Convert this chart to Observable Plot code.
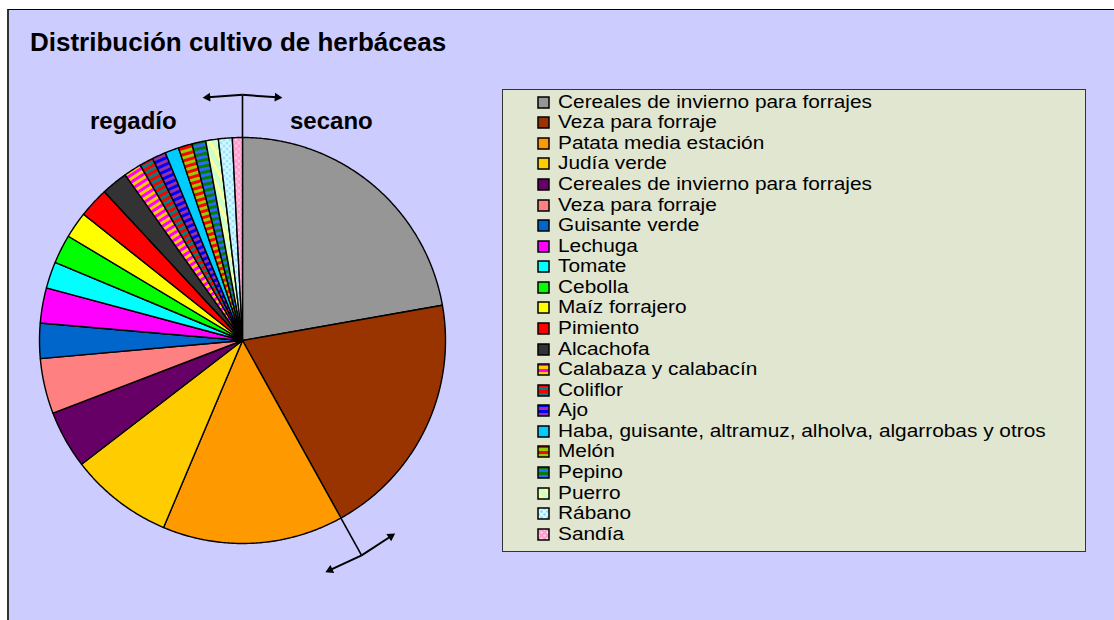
<!DOCTYPE html>
<html><head><meta charset="utf-8">
<script src="https://cdn.jsdelivr.net/npm/d3@7"></script>
<script src="https://cdn.jsdelivr.net/npm/@observablehq/plot@0.6"></script>
<style>
body{margin:0;background:#fff;width:1114px;height:620px;overflow:hidden;position:relative;font-family:"Liberation Sans",Arial,sans-serif;}
#frame{position:absolute;left:7px;top:9px;width:1107px;height:611px;background:#CCCCFF;border-top:1px solid #000;border-left:2px solid #333;box-sizing:border-box;}
#title{position:absolute;left:30px;top:29px;font-weight:bold;font-size:26px;line-height:26px;white-space:nowrap;color:#000;}
.side{position:absolute;top:109px;font-weight:bold;font-size:24px;line-height:24px;white-space:nowrap;color:#000;}
#chart{position:absolute;left:0;top:0;}
#legend{position:absolute;left:502px;top:89px;width:584px;height:463px;background:#E0E6D0;border:1px solid #333;box-sizing:border-box;}
.row{position:absolute;left:0;height:20.5px;white-space:nowrap;color:#000;}
.row svg{position:absolute;left:34px;top:4px;}
.row span{position:absolute;left:55px;top:0;font-size:18.3px;line-height:20.5px;display:block;transform:scaleX(1.14);transform-origin:0 50%;}
</style>
</head><body>
<div id="frame"></div>
<div id="title">Distribución cultivo de herbáceas</div>
<div class="side" style="left:90px">regadío</div>
<div class="side" style="left:290px">secano</div>
<div id="chart"></div>
<div id="legend"></div>
<script>
// ---- data ----
const categories = [
  "Cereales de invierno para forrajes", "Veza para forraje", "Patata media estación", "Judía verde",
  "Cereales de invierno para forrajes", "Veza para forraje", "Guisante verde", "Lechuga", "Tomate",
  "Cebolla", "Maíz forrajero", "Pimiento", "Alcachofa", "Calabaza y calabacín", "Coliflor", "Ajo",
  "Haba, guisante, altramuz, alholva, algarrobas y otros", "Melón", "Pepino", "Puerro", "Rábano", "Sandía"
];
const values = [22.2, 19.7, 14.4, 8.2, 4.6, 4.4, 2.8, 2.8, 2.1, 2.3, 2.1, 2.4, 2.1, 1.4, 1.1, 1.1, 1.1, 1.1, 1.1, 1.0, 1.1, 0.8];
const groups = ["secano", "secano", "regadío", "regadío", "regadío", "regadío", "regadío", "regadío", "regadío", "regadío", "regadío",
  "regadío", "regadío", "regadío", "regadío", "regadío", "regadío", "regadío", "regadío", "regadío", "regadío", "regadío"];
const solidColors = ["#969696", "#993300", "#FF9900", "#FFCC00", "#660066", "#FF8080", "#0066CC", "#FF00FF", "#00FFFF",
  "#00FF00", "#FFFF00", "#FF0000", "#333333", null, null, null, "#00CCFF", null, null, null, null, null];
const patterns = {
  13: {type: "stripes", a: "#FF00FF", b: "#FFCC00"},
  14: {type: "stripes", a: "#FF0000", b: "#008080"},
  15: {type: "stripes", a: "#0000FF", b: "#993399"},
  17: {type: "stripes", a: "#FF0000", b: "#99CC00"},
  18: {type: "stripes", a: "#008000", b: "#3366FF"},
  19: {type: "diag", a: "#CCFFCC", b: "#FFFF99"},
  20: {type: "dots", a: "#CCFFFF", b: "#99CCFF"},
  21: {type: "dots", a: "#FF99CC", b: "#FFD6EA"}
};

// ---- geometry from data ----
const total = d3.sum(values);
const cum = d3.cumsum(values);
const starts = values.map((v, i) => (i === 0 ? 0 : cum[i - 1]) / total * 360);
const ends = cum.map(c => c / total * 360);
const rad = a => a * Math.PI / 180;

// ---- pattern defs ----
const defsSvg = d3.select("body").append("svg").attr("width", 0).attr("height", 0).style("position", "absolute");
const defs = defsSvg.append("defs");
function makePattern(id, p, rot) {
  const pat = defs.append("pattern").attr("id", id).attr("patternUnits", "userSpaceOnUse");
  if (p.type === "stripes") {
    pat.attr("width", 6).attr("height", 6).attr("patternTransform", `rotate(${rot})`);
    pat.append("rect").attr("width", 6).attr("height", 3).attr("fill", p.a);
    pat.append("rect").attr("y", 3).attr("width", 6).attr("height", 3).attr("fill", p.b);
  } else if (p.type === "diag") {
    pat.attr("width", 8).attr("height", 8).attr("patternTransform", "rotate(60)");
    pat.append("rect").attr("width", 8).attr("height", 8).attr("fill", p.a);
    pat.append("rect").attr("width", 8).attr("height", 3).attr("fill", p.b);
  } else {
    pat.attr("width", 6).attr("height", 6);
    pat.append("rect").attr("width", 6).attr("height", 6).attr("fill", p.a);
    pat.append("circle").attr("cx", 1.5).attr("cy", 1.5).attr("r", 1.3).attr("fill", p.b);
    pat.append("circle").attr("cx", 4.5).attr("cy", 4.5).attr("r", 1.3).attr("fill", p.b);
  }
}
const sliceFill = [], legendFill = [];
categories.forEach((c, i) => {
  if (patterns[i]) {
    const mid = (starts[i] + ends[i]) / 2;
    makePattern("slice" + i, patterns[i], mid);
    makePattern("leg" + i, patterns[i], 0);
    sliceFill.push(`url(#slice${i})`);
    legendFill.push(`url(#leg${i})`);
  } else {
    sliceFill.push(solidColors[i]);
    legendFill.push(solidColors[i]);
  }
});

// ---- slice outlines (clockwise from 12 o'clock) ----
const rows = [];
categories.forEach((c, i) => {
  rows.push({id: i, x: 0, y: 0, fill: sliceFill[i]});
  const n = Math.max(2, Math.ceil(ends[i] - starts[i]) * 2);
  for (let k = 0; k <= n; k++) {
    const a = rad(starts[i] + (ends[i] - starts[i]) * k / n);
    rows.push({id: i, x: Math.sin(a), y: Math.cos(a), fill: sliceFill[i]});
  }
  rows.push({id: i, x: 0, y: 0, fill: sliceFill[i]});
});

// ---- secano / regadío boundary markers ----
const boundaries = [];
groups.forEach((g, i) => {
  const prev = groups[(i - 1 + groups.length) % groups.length];
  if (g !== prev) boundaries.push(starts[i]);
});
const stemLen = 1.21, arrowLen = 0.19, bend = rad(4), headBack = 0.02;
const stems = boundaries.map(b => ({x1: Math.sin(rad(b)), y1: Math.cos(rad(b)), x2: stemLen * Math.sin(rad(b)), y2: stemLen * Math.cos(rad(b))}));
const arrows = [], heads = [];
boundaries.forEach(b => {
  const rx = Math.sin(rad(b)), ry = Math.cos(rad(b));
  const ox = stemLen * rx, oy = stemLen * ry;
  [1, -1].forEach(s => {
    // tangent direction, bent slightly toward the pie
    const tx = s * Math.cos(rad(b)), ty = -s * Math.sin(rad(b));
    const dx = tx * Math.cos(bend) - rx * Math.sin(bend);
    const dy = ty * Math.cos(bend) - ry * Math.sin(bend);
    const ex = ox + arrowLen * dx, ey = oy + arrowLen * dy;
    arrows.push({x1: ox, y1: oy, x2: ex - headBack * dx, y2: ey - headBack * dy});
    heads.push({x: ex - 0.018 * dx, y: ey - 0.018 * dy, rotate: Math.atan2(-dy, dx) * 180 / Math.PI + 90});
  });
});

const chart = Plot.plot({
  width: 1114, height: 620,
  marginLeft: 39, marginRight: 669, marginTop: 137, marginBottom: 77,
  x: {domain: [-1, 1], axis: null},
  y: {domain: [-1, 1], axis: null},
  color: {type: "identity"},
  style: {background: "transparent", overflow: "visible"},
  marks: [
    Plot.line(rows, {x: "x", y: "y", z: "id", fill: "fill", stroke: "#000", strokeWidth: 1.4, strokeLinejoin: "round"}),
    Plot.link(stems, {x1: "x1", y1: "y1", x2: "x2", y2: "y2", stroke: "#000", strokeWidth: 1.6}),
    Plot.link(arrows, {x1: "x1", y1: "y1", x2: "x2", y2: "y2", stroke: "#000", strokeWidth: 2}),
    Plot.dot(heads, {x: "x", y: "y", rotate: "rotate", symbol: "triangle2", r: 4.2, fill: "#000", stroke: "none"})
  ]
});
document.getElementById("chart").appendChild(chart);

// ---- legend ----
const legend = d3.select("#legend");
categories.forEach((c, i) => {
  const row = legend.append("div").attr("class", "row").style("top", (102 + i * 20.57 - 10.25 - 90) + "px");
  const sw = row.append("svg").attr("width", 14).attr("height", 14);
  sw.append("rect").attr("x", 1).attr("y", 1).attr("width", 11).attr("height", 11)
    .attr("fill", legendFill[i]).attr("stroke", "#000").attr("stroke-width", 1.5);
  row.append("span").text(c);
});
</script>
</body></html>
